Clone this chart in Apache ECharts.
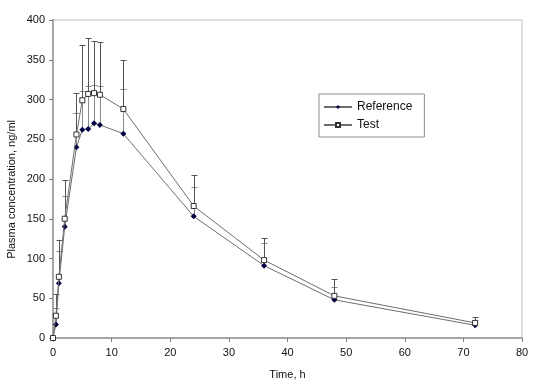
<!DOCTYPE html>
<html><head><meta charset="utf-8">
<script src="https://cdn.jsdelivr.net/npm/echarts@6/dist/echarts.min.js"></script>
<style>html,body{margin:0;padding:0;background:#fff}#c{width:536px;height:391px}</style>
</head><body><div id="c"></div>
<script>
var times = [0, 0.5, 1, 2, 4, 5, 6, 7, 8, 12, 24, 36, 48, 72];
var refMean = [0, 17, 69, 140, 240, 262, 263, 270, 268, 257, 153, 91, 48, 16];
var testMean = [0, 28, 77, 150, 256, 299, 307, 308, 306, 288, 166, 98, 53, 19];
var refSD = [0, 21, 40, 39, 43, 49, 54, 48, 49, 56, 37, 28, 16, 7];
var testSD = [0, 27, 46, 49, 52, 70, 70, 66, 66, 62, 39, 28, 21, 8];
var xTicks = [0, 10, 20, 30, 40, 50, 60, 70, 80];
var yTicks = [0, 50, 100, 150, 200, 250, 300, 350, 400];

var FONT = '"Liberation Sans", Arial, sans-serif';

function pairs(xs, ys) { return xs.map(function (x, i) { return [x, ys[i]]; }); }
function errData(xs, m, sd) { return xs.map(function (x, i) { return [x, m[i], m[i] + sd[i]]; }); }

function errRender(color) {
  return function (params, api) {
    if (api.value(2) === api.value(1)) return null;
    var lo = api.coord([api.value(0), api.value(1)]);
    var hi = api.coord([api.value(0), api.value(2)]);
    var w = 3;
    var x = Math.round(lo[0]) + 0.5, yh = Math.round(hi[1]) + 0.5;
    var st = { stroke: color, lineWidth: 1 };
    return { type: 'group', children: [
      { type: 'line', shape: { x1: x, y1: lo[1], x2: x, y2: yh }, style: st },
      { type: 'line', shape: { x1: x - w, y1: yh, x2: x + w, y2: yh }, style: st }
    ]};
  };
}

var chart = echarts.init(document.getElementById('c'), null, { renderer: 'canvas' });
chart.setOption({
  animation: false,
  backgroundColor: '#fff',
  textStyle: { fontFamily: FONT },
  grid: { left: 53, right: 14, top: 20, bottom: 53, show: true, borderColor: '#bdbdbd', borderWidth: 1, backgroundColor: 'transparent' },
  legend: {
    orient: 'vertical', left: 319, top: 94, width: 98,
    backgroundColor: '#fff', borderColor: '#8c8c8c', borderWidth: 1,
    padding: [7, 12, 6, 4], itemGap: 6, itemWidth: 28, itemHeight: 5,
    textStyle: { fontFamily: FONT, fontSize: 12, color: '#111' },
    data: ['Reference', 'Test']
  },
  xAxis: {
    type: 'value', min: 0, max: 80, interval: 10,
    name: 'Time, h', nameLocation: 'middle', nameGap: 31,
    nameTextStyle: { fontFamily: FONT, fontSize: 11, color: '#111' },
    axisLine: { show: true, lineStyle: { color: '#a6a6a6', width: 2 } },
    axisTick: { show: true, inside: false, length: 4, lineStyle: { color: '#7f7f7f' } },
    axisLabel: { fontFamily: FONT, fontSize: 11, color: '#111', margin: 9,
      formatter: function (v) { return xTicks.indexOf(v) >= 0 ? String(v) : ''; } },
    splitLine: { show: false }
  },
  yAxis: {
    type: 'value', min: 0, max: 400, interval: 50,
    axisLine: { show: true, lineStyle: { color: '#a6a6a6', width: 2 } },
    axisTick: { show: true, inside: false, length: 4, lineStyle: { color: '#7f7f7f' } },
    axisLabel: { fontFamily: FONT, fontSize: 11, color: '#111', margin: 8,
      formatter: function (v) { return yTicks.indexOf(v) >= 0 ? String(v) : ''; } },
    splitLine: { show: false }
  },
  graphic: [{
    type: 'text', left: 6, top: 120, rotation: Math.PI / 2,
    style: { text: 'Plasma concentration, ng/ml', fontFamily: FONT, fontSize: 11, fill: '#111' }
  }],
  series: [
    { name: 'refErr', type: 'custom', renderItem: errRender('#8a8a8a'), data: errData(times, refMean, refSD), z: 1, silent: true },
    { name: 'testErr', type: 'custom', renderItem: errRender('#555555'), data: errData(times, testMean, testSD), z: 1, silent: true },
    { name: 'Reference', type: 'line', data: pairs(times, refMean), z: 3,
      symbol: 'diamond', symbolSize: 6, showSymbol: true,
      lineStyle: { color: '#6e6e6e', width: 1 },
      itemStyle: { color: '#000040', borderColor: '#000040', borderWidth: 0 } },
    { name: 'Test', type: 'line', data: pairs(times, testMean), z: 4,
      symbol: 'rect', symbolSize: 5, showSymbol: true,
      lineStyle: { color: '#6e6e6e', width: 1 },
      itemStyle: { color: '#ffffff', borderColor: '#333333', borderWidth: 1 } }
  ]
});
</script></body></html>
